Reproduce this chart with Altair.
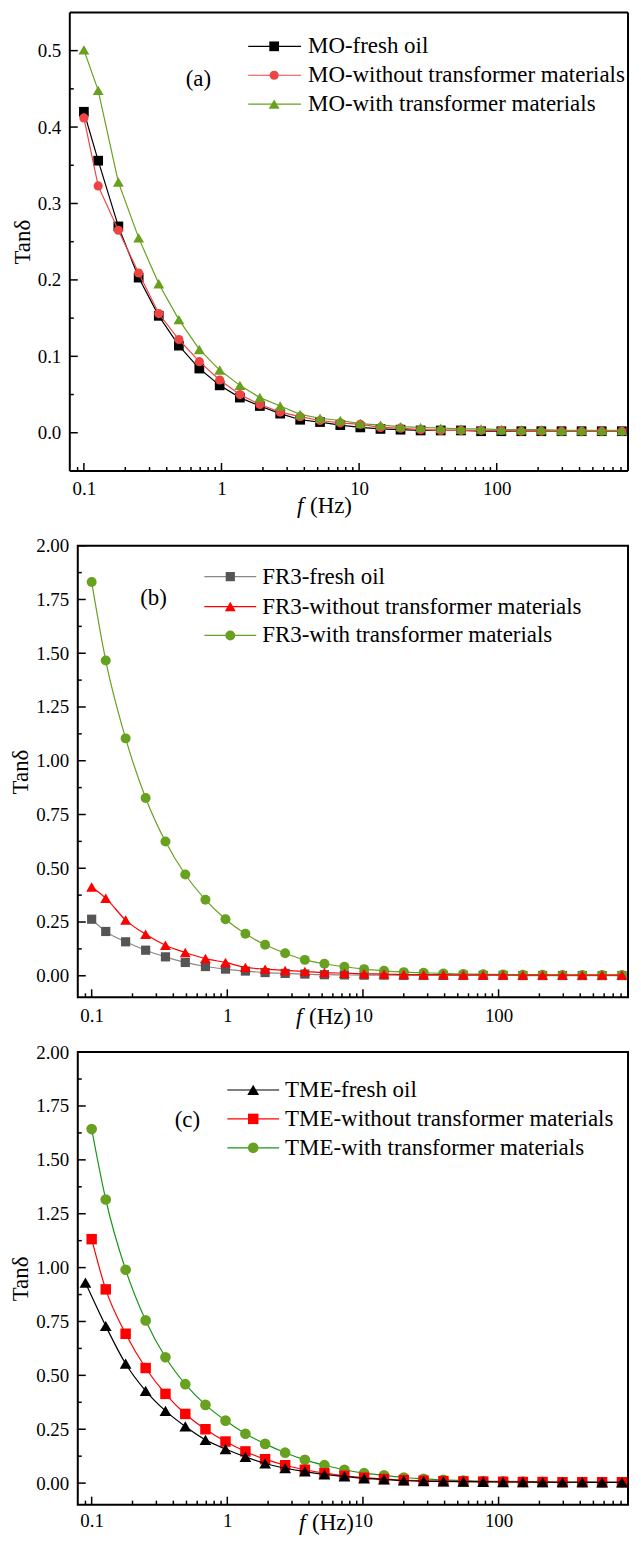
import altair as alt
import pandas as pd

FONT = "Liberation Serif"

# ---------------- data ----------------
FREQ = [0.1, 0.127, 0.178, 0.25, 0.35, 0.49, 0.69, 0.97, 1.36, 1.9, 2.67, 3.73, 5.2, 7.3,
        10.2, 14.3, 20, 28, 39.2, 55, 77, 108, 151, 211, 296, 414, 580, 812]
TME_FRESH_FREQ = [0.09] + FREQ[1:]

MO_FRESH = [0.420, 0.356, 0.270, 0.203, 0.153, 0.114, 0.084, 0.062, 0.046, 0.035, 0.025, 0.017, 0.014, 0.010,
            0.007, 0.005, 0.004, 0.003, 0.003, 0.003, 0.002, 0.002, 0.002, 0.002, 0.002, 0.002, 0.002, 0.002]
MO_WITHOUT = [0.412, 0.323, 0.265, 0.209, 0.156, 0.122, 0.093, 0.069, 0.050, 0.037, 0.027, 0.021, 0.016, 0.013,
              0.011, 0.007, 0.006, 0.004, 0.003, 0.003, 0.003, 0.003, 0.002, 0.002, 0.002, 0.002, 0.002, 0.002]
MO_WITH = [0.501, 0.448, 0.328, 0.255, 0.195, 0.148, 0.109, 0.082, 0.062, 0.046, 0.035, 0.024, 0.019, 0.016,
           0.012, 0.010, 0.008, 0.007, 0.006, 0.005, 0.005, 0.004, 0.004, 0.004, 0.003, 0.003, 0.003, 0.003]

FR3_FRESH = [0.263, 0.206, 0.158, 0.119, 0.088, 0.062, 0.043, 0.031, 0.022, 0.015, 0.011, 0.008, 0.005, 0.004,
             0.003, 0.003, 0.002, 0.002, 0.002, 0.002, 0.002, 0.002, 0.001, 0.001, 0.001, 0.001, 0.001, 0.001]
FR3_WITHOUT = [0.413, 0.361, 0.259, 0.193, 0.142, 0.108, 0.080, 0.062, 0.039, 0.031, 0.025, 0.020, 0.015, 0.012,
               0.009, 0.008, 0.006, 0.005, 0.005, 0.004, 0.004, 0.004, 0.003, 0.003, 0.003, 0.003, 0.003, 0.003]
FR3_WITH = [1.831, 1.466, 1.104, 0.827, 0.624, 0.471, 0.354, 0.263, 0.195, 0.144, 0.105, 0.074, 0.056, 0.042,
            0.031, 0.023, 0.017, 0.014, 0.011, 0.008, 0.007, 0.006, 0.005, 0.005, 0.004, 0.004, 0.004, 0.004]

TME_FRESH = [0.930, 0.729, 0.554, 0.428, 0.335, 0.263, 0.201, 0.158, 0.122, 0.091, 0.069, 0.054, 0.040, 0.031,
             0.022, 0.017, 0.012, 0.009, 0.008, 0.007, 0.006, 0.005, 0.005, 0.004, 0.004, 0.004, 0.003, 0.003]
TME_WITHOUT = [1.132, 0.899, 0.693, 0.534, 0.414, 0.321, 0.250, 0.193, 0.147, 0.111, 0.083, 0.062, 0.046, 0.034,
               0.025, 0.019, 0.014, 0.011, 0.009, 0.008, 0.007, 0.006, 0.005, 0.005, 0.004, 0.004, 0.004, 0.004]
TME_WITH = [1.643, 1.316, 0.990, 0.755, 0.584, 0.459, 0.363, 0.290, 0.229, 0.182, 0.141, 0.108, 0.083, 0.062,
            0.046, 0.036, 0.026, 0.020, 0.015, 0.012, 0.009, 0.008, 0.007, 0.006, 0.005, 0.005, 0.004, 0.004]

X_MAJOR = [0.1, 1, 10, 100]
X_MINOR = [0.09, 0.2, 0.3, 0.4, 0.5, 0.6, 0.7, 0.8, 0.9, 2, 3, 4, 5, 6, 7, 8, 9,
           20, 30, 40, 50, 60, 70, 80, 90, 200, 300, 400, 500, 600, 700, 800]
Y_MAJOR_A = [0.0, 0.1, 0.2, 0.3, 0.4, 0.5]
Y_MINOR_A = [-0.05, 0.05, 0.15, 0.25, 0.35, 0.45]
Y_MAJOR_BC = [0.0, 0.25, 0.5, 0.75, 1.0, 1.25, 1.5, 1.75, 2.0]
Y_MINOR_BC = [0.125, 0.375, 0.625, 0.875, 1.125, 1.375, 1.625, 1.875]

X_DOMAIN = [0.079, 900]
W = 552


def panel(H, shift, ydom, ymajor, yminor, yfmt, series, legend, tag, xtitle, bounds, xlabpad=9):
    xs = alt.Scale(type="log", domain=X_DOMAIN, nice=False, range=[-shift, W])
    ys = alt.Scale(domain=ydom, nice=False, zero=False)
    xax = alt.Axis(values=X_MAJOR, format="~g", title=None, ticks=False, tickSize=0, domain=False, grid=False,
                   labelFont=FONT, labelFontSize=19, labelColor="black", labelPadding=xlabpad, labelFlush=False)
    yax = alt.Axis(values=ymajor, format=yfmt, title="Tanδ", ticks=False, tickSize=0, domain=False, grid=False,
                   offset=shift,
                   labelFont=FONT, labelFontSize=19, labelColor="black", labelPadding=9, labelFlush=False,
                   titleFont=FONT, titleFontSize=23, titleFontWeight="normal", titleColor="black",
                   titlePadding=3)
    X = alt.X("f:Q", scale=xs, axis=xax)
    Y = alt.Y("v:Q", scale=ys, axis=yax)
    one = pd.DataFrame({"a": [0]})
    layers = []

    # invisible rule that fixes the vertical extent of the panel in the layout
    layers.append(alt.Chart(one).mark_rule(strokeOpacity=0, strokeWidth=1).encode(
        x=alt.value(W / 2), y=alt.value(-bounds[0]), y2=alt.value(H + bounds[1])))

    # frame (drawn by hand when the plot is widened to the left)
    if shift:
        for (x1, x2, y1, y2) in [(-shift, -shift, 0, H), (W, W, 0, H), (-shift, W, 0, 0), (-shift, W, H, H)]:
            layers.append(alt.Chart(one).mark_rule(color="black", strokeWidth=2).encode(
                x=alt.value(x1), x2=alt.value(x2), y=alt.value(y1), y2=alt.value(y2)))

    # inward ticks
    def xt(vals, ln):
        d = pd.DataFrame({"f": vals})
        return alt.Chart(d).mark_rule(color="black", strokeWidth=1.5).encode(
            x=X, y=alt.value(H), y2=alt.value(H - ln))

    def yt(vals, ln):
        d = pd.DataFrame({"v": vals})
        return alt.Chart(d).mark_rule(color="black", strokeWidth=1.5).encode(
            y=Y, x=alt.value(-shift), x2=alt.value(-shift + ln))

    layers += [xt(X_MAJOR, 8), xt(X_MINOR, 4), yt(ymajor, 8), yt(yminor, 4)]

    # data series
    for freqs, vals, lc, fc, shape, size, interp in series:
        d = pd.DataFrame({"f": freqs, "v": vals})
        base = alt.Chart(d).encode(x=X, y=Y)
        layers.append(base.mark_line(color=lc, strokeWidth=1.2, interpolate=interp))
        layers.append(base.mark_point(shape=shape, size=size, filled=True, fill=fc, opacity=1, strokeWidth=0))

    # legend (drawn inside plot)
    (lx0, lx1, lxm, ltx, lys) = legend["geom"]
    for (label, lc, fc, shape, size), ly in zip(legend["rows"], lys):
        layers.append(alt.Chart(one).mark_rule(color=lc, strokeWidth=1.2).encode(
            x=alt.value(lx0 - shift), x2=alt.value(lx1 - shift), y=alt.value(ly)))
        layers.append(alt.Chart(one).mark_point(shape=shape, size=size, filled=True, fill=fc, opacity=1,
                                                strokeWidth=0).encode(x=alt.value(lxm - shift), y=alt.value(ly)))
        layers.append(alt.Chart(one).mark_text(text=label, font=FONT, fontSize=23, align="left",
                                               baseline="middle", color="black").encode(
            x=alt.value(ltx - shift), y=alt.value(ly)))

    # panel tag
    layers.append(alt.Chart(one).mark_text(text=tag[0], font=FONT, fontSize=23, align="center",
                                           baseline="middle", color="black").encode(
        x=alt.value(tag[1] - shift), y=alt.value(tag[2])))

    # x title: italic f + (Hz)
    layers.append(alt.Chart(one).mark_text(text="f", font=FONT, fontStyle="italic", fontSize=23, align="left",
                                           baseline="middle", color="black").encode(
        x=alt.value(xtitle[0] - shift), y=alt.value(H + xtitle[1])))
    layers.append(alt.Chart(one).mark_text(text="(Hz)", font=FONT, fontSize=23, align="left",
                                           baseline="middle", color="black").encode(
        x=alt.value(xtitle[0] - shift + 13), y=alt.value(H + xtitle[1])))

    ch = alt.layer(*layers).properties(width=W, height=H)
    if shift:
        ch = ch.properties(view=alt.ViewBackground(stroke="transparent"))
    return ch


RED_A = "#EF4444"
GREEN = "#68A11F"

pa = panel(
    460, 8, [-0.05, 0.55], Y_MAJOR_A, Y_MINOR_A, ".1f",
    [
        (FREQ, MO_FRESH, "black", "black", "square", 95, "linear"),
        (FREQ, MO_WITHOUT, RED_A, RED_A, "circle", 85, "linear"),
        (FREQ, MO_WITH, GREEN, GREEN, "triangle-up", 120, "linear"),
    ],
    {"geom": (179, 232, 205, 239, [34, 63, 92]),
     "rows": [("MO-fresh oil", "black", "black", "square", 95),
              ("MO-without transformer materials", RED_A, RED_A, "circle", 85),
              ("MO-with transformer materials", GREEN, GREEN, "triangle-up", 120)]},
    ("(a)", 129, 67), (228, 35), (1, 48),
)

pb = panel(
    453, 0, [-0.1, 2.0], Y_MAJOR_BC, Y_MINOR_BC, ".2f",
    [
        (FREQ, FR3_FRESH, "#888888", "#555555", "square", 85, "monotone"),
        (FREQ, FR3_WITH, GREEN, GREEN, "circle", 100, "monotone"),
        (FREQ, FR3_WITHOUT, "#FF0000", "#FF0000", "triangle-up", 120, "monotone"),
    ],
    {"geom": (127, 179, 153, 185, [31, 61, 90]),
     "rows": [("FR3-fresh oil", "#888888", "#555555", "square", 85),
              ("FR3-without transformer materials", "#FF0000", "#FF0000", "triangle-up", 120),
              ("FR3-with transformer materials", GREEN, GREEN, "circle", 100)]},
    ("(b)", 76, 52), (219, 20), (25, 33),
)

pc = panel(
    454, 0, [-0.1, 2.0], Y_MAJOR_BC, Y_MINOR_BC, ".2f",
    [
        (FREQ, TME_WITH, "#1A961A", GREEN, "circle", 115, "monotone"),
        (FREQ, TME_WITHOUT, "#FF0000", "#FF0000", "square", 110, "monotone"),
        (TME_FRESH_FREQ, TME_FRESH, "black", "black", "triangle-up", 140, "monotone"),
    ],
    {"geom": (150, 202, 176, 208, [38, 67, 96]),
     "rows": [("TME-fresh oil", "black", "black", "triangle-up", 140),
              ("TME-without transformer materials", "#FF0000", "#FF0000", "square", 110),
              ("TME-with transformer materials", "#1A961A", GREEN, "circle", 115)]},
    ("(c)", 110, 68), (222, 18), (20, 20), xlabpad=7,
)

chart = alt.vconcat(pa, pb, pc, spacing=0).properties(
    padding={"left": 0, "top": 0, "right": -4, "bottom": -3}
).configure(font=FONT).configure_view(stroke="black", strokeWidth=2)

chart.save("out.html", embed_options={"renderer": "svg", "actions": False})
